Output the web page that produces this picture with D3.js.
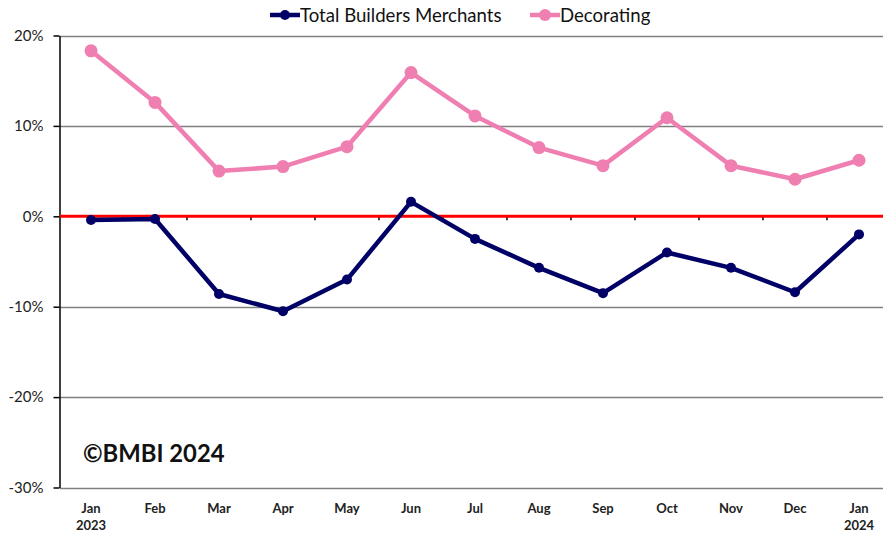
<!DOCTYPE html>
<html><head><meta charset="utf-8">
<script src="https://cdn.jsdelivr.net/npm/d3@7"></script>
<style>body{margin:0;background:#fff;} svg{display:block;font-family:Lato,"Open Sans",sans-serif;}</style>
</head><body><svg id="c" width="883" height="533"></svg>
<script>
const categories = ["Jan|2023","Feb","Mar","Apr","May","Jun","Jul","Aug","Sep","Oct","Nov","Dec","Jan|2024"];
const totalBuilders = [-0.4,-0.3,-8.6,-10.5,-7.0,1.6,-2.5,-5.7,-8.5,-4.0,-5.7,-8.4,-2.0];
const decorating = [18.3,12.6,5.0,5.5,7.7,15.9,11.1,7.6,5.6,10.9,5.6,4.1,6.2];
const yTicks = [20,10,0,-10,-20,-30];
const seriesNames = ["Total Builders Merchants","Decorating"];
const colors = ["#000066","#F07FB1"];

const svg = d3.select("#c");
const x = d3.scaleBand().domain(categories.map((d,i)=>i)).range([59,891]);
const y = d3.scaleLinear().domain([-30,20]).range([487.5,35.5]);
const cx = i => x(i)+x.bandwidth()/2;

// gridlines
svg.append("g").selectAll("line").data(yTicks.filter(d=>d!==0)).join("line")
  .attr("x1",60).attr("x2",883).attr("y1",d=>Math.round(y(d))+0.5).attr("y2",d=>Math.round(y(d))+0.5)
  .attr("stroke","#7f7f7f").attr("stroke-width",1.3);

// y axis
const ya = svg.append("g").attr("transform","translate(59.5,0)")
  .call(d3.axisLeft(y).tickValues(yTicks).tickFormat(d=>d+"%").tickSize(6).tickSizeOuter(0));
ya.select(".domain").attr("stroke","#000").attr("stroke-width",1.5);
ya.selectAll(".tick line").attr("stroke","#000").attr("stroke-width",1.5);
ya.selectAll(".tick text").attr("font-size",15).attr("fill","#222").attr("x",-16).attr("font-family","Lato,sans-serif");

// category tick marks at zero line
const bounds = d3.range(1,13).map(i=>x(i));
svg.append("g").selectAll("line").data(bounds).join("line")
  .attr("x1",d=>d).attr("x2",d=>d).attr("y1",y(0)).attr("y2",y(0)+4)
  .attr("stroke","#000").attr("stroke-width",1.5);

// zero line red
svg.append("line").attr("x1",60).attr("x2",883).attr("y1",y(0)).attr("y2",y(0))
  .attr("stroke","#ff0000").attr("stroke-width",3);

// x labels
const xl = svg.append("g");
categories.forEach((c,i)=>{
  const parts = c.split("|");
  const t = xl.append("text").attr("x",cx(i)).attr("y",513).attr("text-anchor","middle")
    .attr("font-size",13).attr("font-weight","bold").attr("fill","#222");
  t.append("tspan").attr("x",cx(i)).text(parts[0]);
  if(parts[1]) t.append("tspan").attr("x",cx(i)).attr("dy",17).text(parts[1]);
});

// lines
const line = d3.line().x((d,i)=>cx(i)).y(d=>y(d));
[[decorating,colors[1],6.5],[totalBuilders,colors[0],5]].forEach(([data,col,r])=>{
  svg.append("path").datum(data).attr("d",line).attr("fill","none").attr("stroke",col).attr("stroke-width",4.5).attr("stroke-linejoin","round");
  svg.append("g").selectAll("circle").data(data).join("circle")
    .attr("cx",(d,i)=>cx(i)).attr("cy",d=>y(d)).attr("r",r).attr("fill",col);
});

// watermark
svg.append("text").attr("x",83).attr("y",462).attr("font-size",23.8).attr("font-weight","bold").attr("fill","#111").text("©BMBI 2024");

// legend
const leg = [{x:270,name:seriesNames[0],col:colors[0],r:5},{x:530,name:seriesNames[1],col:colors[1],r:6}];
leg.forEach(l=>{
  svg.append("line").attr("x1",l.x).attr("x2",l.x+30).attr("y1",15).attr("y2",15).attr("stroke",l.col).attr("stroke-width",4.5);
  svg.append("circle").attr("cx",l.x+15).attr("cy",15).attr("r",l.r).attr("fill",l.col);
  svg.append("text").attr("x",l.x+30).attr("y",21.5).attr("font-size",18.6).attr("fill","#111").text(l.name);
});
</script></body></html>
